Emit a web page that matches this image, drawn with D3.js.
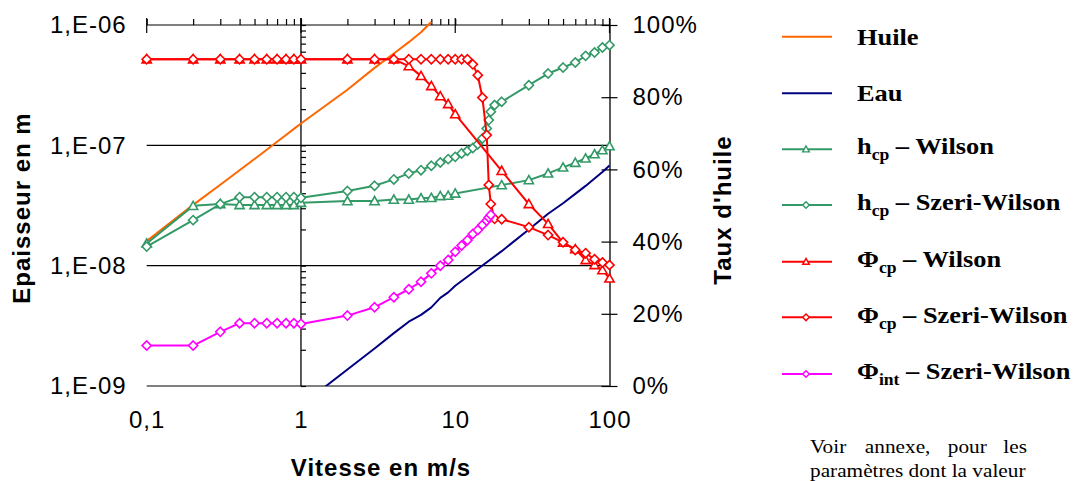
<!DOCTYPE html>
<html><head><meta charset="utf-8">
<script src="https://cdn.jsdelivr.net/npm/d3@7"></script>
<style>body{margin:0;background:#fff}svg{display:block}</style>
</head><body><svg id="c" width="1077" height="481"></svg>
<script>
// ---------- data ----------
const xA = [0.1,0.2,0.3,0.4,0.5,0.6,0.7,0.8,0.9,1,2,3,4,5,6,7,8,9,10,20,30,40,50,60,70,80,90,100];
const xSW = [0.1,0.2,0.3,0.4,0.5,0.6,0.7,0.8,0.9,1,2,3,4,5,6,7,8,9,10,11,12,13,14,15,16,16.5,17,18,20,30,40,50,60,70,80,90,100];
const xInt = [0.1,0.2,0.3,0.4,0.5,0.6,0.7,0.8,0.9,1,2,3,4,5,6,7,8,9,10,11,12,13,14,15,16,16.5,17];
const xHuile = [0.1,0.2,0.3,0.4,0.5,0.6,0.7,0.8,0.9,1,2,3,4,5,6,7];
const xEau = [1,2,3,4,5,6,7,8,9,10,20,30,40,50,60,70,80,90,100];

const huile = [1.6e-8,3.2e-8,4.7e-8,6.2e-8,7.7e-8,9.2e-8,1.07e-7,1.22e-7,1.37e-7,1.52e-7,2.9e-7,4.4e-7,5.8e-7,7.2e-7,8.7e-7,1.06e-6];
const eau = [6.9e-10,1.37e-9,2.05e-9,2.75e-9,3.42e-9,3.9e-9,4.5e-9,5.4e-9,6.0e-9,6.8e-9,1.32e-8,2.0e-8,2.7e-8,3.3e-8,3.95e-8,4.6e-8,5.3e-8,6.0e-8,6.8e-8];
const hcpWilson = [1.53e-8,3.14e-8,3.25e-8,3.19e-8,3.19e-8,3.19e-8,3.19e-8,3.19e-8,3.19e-8,3.33e-8,3.44e-8,3.44e-8,3.54e-8,3.54e-8,3.64e-8,3.66e-8,3.79e-8,3.82e-8,3.98e-8,4.67e-8,5.14e-8,5.84e-8,6.55e-8,7.16e-8,7.79e-8,8.45e-8,9.12e-8,9.84e-8];
const hcpSzeri = [1.44e-8,2.39e-8,3.25e-8,3.71e-8,3.71e-8,3.71e-8,3.71e-8,3.71e-8,3.71e-8,3.66e-8,4.17e-8,4.61e-8,5.21e-8,5.84e-8,6.22e-8,6.76e-8,7.21e-8,7.68e-8,8.02e-8,8.57e-8,9.0e-8,9.5e-8,1.02e-7,1.14e-7,1.38e-7,1.62e-7,1.9e-7,2.16e-7,2.3e-7,3.16e-7,3.95e-7,4.43e-7,4.88e-7,5.54e-7,5.91e-7,6.5e-7,6.8e-7];
const phiCpWilson = [0.905,0.905,0.905,0.905,0.905,0.905,0.905,0.905,0.905,0.905,0.905,0.905,0.905,0.886,0.859,0.831,0.803,0.781,0.753,0.596,0.504,0.449,0.397,0.379,0.349,0.335,0.321,0.298];
const phiCpSzeri = [0.905,0.905,0.905,0.905,0.905,0.905,0.905,0.905,0.905,0.905,0.905,0.905,0.905,0.905,0.905,0.905,0.905,0.905,0.905,0.905,0.905,0.891,0.861,0.799,0.695,0.557,0.504,0.463,0.462,0.44,0.418,0.398,0.377,0.368,0.351,0.342,0.335];
const phiIntSzeri = [0.112,0.112,0.150,0.174,0.174,0.174,0.174,0.174,0.174,0.172,0.195,0.218,0.246,0.268,0.289,0.312,0.333,0.349,0.372,0.389,0.404,0.421,0.432,0.446,0.458,0.467,0.474];

const xTickLabels = [0.1,1,10,100];
const yLeftTicks = [1e-9,1e-8,1e-7,1e-6];
const yRightTicks = [0,0.2,0.4,0.6,0.8,1];

// ---------- setup ----------
const svg = d3.select("#c");
const X0 = 146.7, X1 = 609.5, YT = 25, YB = 386;
const x = d3.scaleLog().domain([0.1,100]).range([X0,X1]);
const yL = d3.scaleLog().domain([1e-9,1e-6]).range([YB,YT]);
const yR = d3.scaleLinear().domain([0,1]).range([YB,YT]);

const minorX = [];
for (let d of [0.1,1,10]) for (let k=1;k<10;k++) minorX.push(d*k);
minorX.push(100);
const minorY = [];
for (let d of [1e-9,1e-8,1e-7]) for (let k=1;k<10;k++) minorY.push(d*k);
minorY.push(1e-6);

// gridlines
svg.append("g").selectAll("line").data([1e-9,1e-8,1e-7,1e-6]).join("line")
  .attr("x1",X0).attr("x2",X1).attr("y1",d=>yL(d)).attr("y2",d=>yL(d))
  .attr("stroke","#000").attr("stroke-width",1.2);

// top axis with minor ticks
const topAx = svg.append("g").attr("transform",`translate(0,${YT})`)
  .call(d3.axisTop(x).tickValues(minorX).tickSize(6).tickFormat(""));
topAx.select(".domain").remove();
topAx.selectAll("line").attr("stroke","#000").attr("stroke-width",1.2);
svg.append("g").selectAll("line").data(xTickLabels).join("line")
  .attr("x1",d=>x(d)).attr("x2",d=>x(d)).attr("y1",YT-7).attr("y2",YT+8)
  .attr("stroke","#000").attr("stroke-width",1.2);

// vertical axis crossing at x=1
const midAx = svg.append("g").attr("transform",`translate(${x(1)},0)`)
  .call(d3.axisRight(yL).tickValues(minorY).tickSize(5).tickFormat(""));
midAx.select(".domain").remove();
midAx.selectAll("line").attr("stroke","#000").attr("stroke-width",1.2);
svg.append("line").attr("x1",x(1)).attr("x2",x(1)).attr("y1",YT-7).attr("y2",YB)
  .attr("stroke","#000").attr("stroke-width",1.3);

// right axis
const rAx = svg.append("g").attr("transform",`translate(${X1},0)`)
  .call(d3.axisRight(yR).tickValues(yRightTicks).tickSizeInner(8).tickSizeOuter(0).tickPadding(15).tickFormat(d3.format(".0%")));
rAx.select(".domain").attr("stroke","#000").attr("stroke-width",1.3);
rAx.selectAll(".tick line").attr("x1",-8).attr("stroke","#000").attr("stroke-width",1.2);
rAx.selectAll("text").attr("font-family","'Liberation Sans',Arial,sans-serif").attr("font-size",24)
  .attr("letter-spacing","1px").attr("fill","#000");

// left labels
const lAx = svg.append("g").attr("transform",`translate(${X0},0)`)
  .call(d3.axisLeft(yL).tickValues(yLeftTicks).tickSize(0).tickPadding(20)
    .tickFormat(d=>"1,E-0"+Math.round(-Math.log10(d))));
lAx.select(".domain").remove();
lAx.selectAll("text").attr("font-family","'Liberation Sans',Arial,sans-serif").attr("font-size",24)
  .attr("letter-spacing","1px").attr("fill","#000");

// bottom labels
const bAx = svg.append("g").attr("transform",`translate(0,${YB})`)
  .call(d3.axisBottom(x).tickValues(xTickLabels).tickSize(0).tickPadding(25)
    .tickFormat(d=>String(d).replace(".",",")));
bAx.select(".domain").remove();
bAx.selectAll("text").attr("font-family","'Liberation Sans',Arial,sans-serif").attr("font-size",24)
  .attr("letter-spacing","1px").attr("fill","#000");

// axis titles
const tf = "'Liberation Sans',Arial,sans-serif";
svg.append("text").attr("transform","translate(30,208) rotate(-90)").attr("text-anchor","middle")
  .attr("font-family",tf).attr("font-weight","bold").attr("font-size",24).attr("letter-spacing","1px")
  .text("Epaisseur en m");
svg.append("text").attr("x",381).attr("y",476).attr("text-anchor","middle")
  .attr("font-family",tf).attr("font-weight","bold").attr("font-size",24).attr("letter-spacing","1px")
  .text("Vitesse en m/s");
svg.append("text").attr("transform","translate(731,210) rotate(-90)").attr("text-anchor","middle")
  .attr("font-family",tf).attr("font-weight","bold").attr("font-size",24).attr("letter-spacing","1px")
  .text("Taux d'huile");

// ---------- series ----------
svg.append("defs").append("clipPath").attr("id","clip").append("rect")
  .attr("x",X0-10).attr("y",0).attr("width",X1-X0+20).attr("height",YB);
const plot = svg.append("g").attr("clip-path","url(#clip)");

const tri = "M0,-4.6L4.6,3.6L-4.6,3.6Z";
const dia = "M0,-4.6L4.6,0L0,4.6L-4.6,0Z";

const series = [
  {name:"Huile", xs:xHuile, ys:huile, scale:yL, color:"#FF6600", marker:null},
  {name:"Eau", xs:xEau, ys:eau, scale:yL, color:"#000080", marker:null},
  {name:"hcpW", xs:xA, ys:hcpWilson, scale:yL, color:"#339966", marker:tri},
  {name:"hcpSW", xs:xSW, ys:hcpSzeri, scale:yL, color:"#339966", marker:dia},
  {name:"phiW", xs:xA, ys:phiCpWilson, scale:yR, color:"#FF0000", marker:tri},
  {name:"phiSW", xs:xSW, ys:phiCpSzeri, scale:yR, color:"#FF0000", marker:dia},
  {name:"phiInt", xs:xInt, ys:phiIntSzeri, scale:yR, color:"#FF00FF", marker:dia}
];

series.forEach(s=>{
  const pts = s.xs.map((v,i)=>[v,s.ys[i]]);
  const line = d3.line().x(d=>x(d[0])).y(d=>s.scale(d[1]));
  plot.append("path").attr("d",line(pts)).attr("fill","none").attr("stroke",s.color)
    .attr("stroke-width",2).attr("stroke-linejoin","round");
  if (s.marker) {
    plot.append("g").selectAll("path").data(pts).join("path")
      .attr("d",s.marker).attr("transform",d=>`translate(${x(d[0])},${s.scale(d[1])})`)
      .attr("fill","#fff").attr("stroke",s.color).attr("stroke-width",1.6);
  }
});

// ---------- legend ----------
const legNames = [
  {main:"Huile"},
  {main:"Eau"},
  {pre:"h", sub:"cp", post:" – Wilson"},
  {pre:"h", sub:"cp", post:" – Szeri-Wilson"},
  {pre:"Φ", sub:"cp", post:" – Wilson"},
  {pre:"Φ", sub:"cp", post:" – Szeri-Wilson"},
  {pre:"Φ", sub:"int", post:" – Szeri-Wilson"}
];
const legLineY = [36.7,93.3,149.3,205,261.7,317.3,374];
const legBase = [45,100.5,154,210,267,323,379];
const sf = "'Liberation Serif','Times New Roman',serif";
series.forEach((s,i)=>{
  const g = svg.append("g");
  g.append("line").attr("x1",782).attr("x2",832).attr("y1",legLineY[i]).attr("y2",legLineY[i])
    .attr("stroke",s.color).attr("stroke-width",2);
  if (s.marker) {
    g.append("path").attr("d",s.marker).attr("transform",`translate(806,${legLineY[i]}) scale(0.72)`)
      .attr("fill","#fff").attr("stroke",s.color).attr("stroke-width",2);
  }
  const n = legNames[i];
  const t = svg.append("text").attr("transform",`translate(857,${legBase[i]}) scale(1.1,1)`)
    .attr("font-family",sf).attr("font-weight","bold").attr("font-size",24).attr("fill","#000");
  if (n.main) t.text(n.main);
  else {
    t.append("tspan").text(n.pre);
    t.append("tspan").attr("font-size",16).attr("dy",6).text(n.sub);
    t.append("tspan").attr("dy",-6).text(n.post);
  }
});

// footnote
const fn = svg.append("g").attr("transform","translate(810,452.7) scale(1.12,1)")
  .attr("font-family",sf).attr("font-size",19).attr("fill","#000");
fn.append("text").attr("x",0).text("Voir");
fn.append("text").attr("x",49).text("annexe,");
fn.append("text").attr("x",123).text("pour");
fn.append("text").attr("x",193.7).attr("text-anchor","end").text("les");
fn.append("text").attr("x",0).attr("y",24).text("paramètres dont la valeur");
</script></body></html>
